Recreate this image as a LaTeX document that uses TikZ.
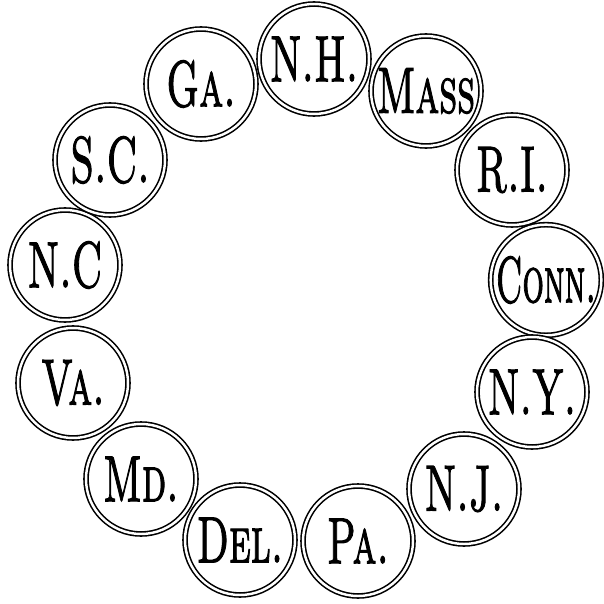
\documentclass[tikz,border=0pt]{standalone}
\usepackage{graphicx}
\usepackage{fontspec}
\newfontfamily\sealfont{lmromancaps10-regular.otf}[FakeBold=2]
\tikzset{
    seal/.style={circle, draw, line width=0.9pt, double, double distance=1.4pt,
        minimum size=2.2cm, inner sep=0pt},
}
\newcommand{\abbr}[2][0.6]{\scalebox{#1}[1]{\fontsize{37}{37}\selectfont\sealfont #2}}
\begin{document}
\begin{tikzpicture}[x=0.02cm, y=-0.02cm]
    \useasboundingbox (0,0) rectangle (604,604);
    \node[seal] (nh) at (314,59) {\abbr{N.H.}};
    \node[seal] (mass) at (426,91) {\abbr{Mass}};
    \node[seal] (ri) at (512,170) {\abbr{R.I.}};
    \node[seal] (conn) at (546,280) {\abbr[0.52]{Conn.}};
    \node[seal] (ny) at (532,392) {\abbr{N.Y.}};
    \node[seal] (nj) at (464,489) {\abbr{N.J.}};
    \node[seal] (pa) at (358,541) {\abbr{Pa.}};
    \node[seal] (del) at (240,540) {\abbr{Del.}};
    \node[seal] (md) at (141,479) {\abbr{Md.}};
    \node[seal] (va) at (73,383) {\abbr{Va.}};
    \node[seal] (nc) at (65,265) {\abbr{N.C}};
    \node[seal] (sc) at (110,160) {\abbr{S.C.}};
    \node[seal] (ga) at (201,84) {\abbr{Ga.}};
\end{tikzpicture}
\end{document}
